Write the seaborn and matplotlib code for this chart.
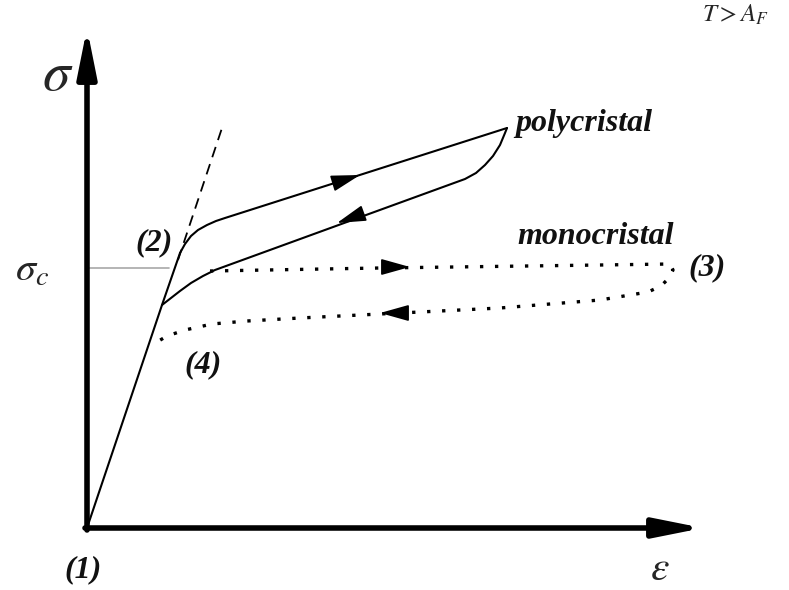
import matplotlib
matplotlib.use("Agg")
import matplotlib.pyplot as plt
import seaborn as sns

# Schematic coordinates (strain, stress), origin at the axes crossing
elastic_eps = [0, 75, 93]
elastic_sig = [0, 223, 275]

dashed_eps = [91, 135]
dashed_sig = [268, 400]

poly_load_eps = [93, 98, 104, 111, 120, 129, 138, 420]
poly_load_sig = [275, 284, 292, 298, 303, 307, 310, 400]

poly_unload_eps = [420, 418, 413, 406, 398, 389, 378, 128, 116, 104, 93, 84, 75]
poly_unload_sig = [400, 395, 383, 372, 363, 355, 349, 258, 252, 245, 237, 230, 223]

mono_eps = [123, 293, 513, 583, 586, 582, 574, 561, 513, 413, 313, 213, 160, 125, 98, 80, 65]
mono_sig = [257, 260, 263, 264, 258, 250, 242, 236, 228, 220, 215, 210, 207, 204, 198, 192, 183]

sigma_c = 260

# arrow heads along the paths: (tail, head)
arrows = [
    ((250, 346), (273, 353)),   # polycrystal loading
    ((272, 313), (250, 305)),   # polycrystal unloading
    ((300, 261), (323, 261)),   # monocrystal loading
    ((317, 215), (293, 215)),   # monocrystal unloading
]

sns.set_style("white")
plt.rcParams["mathtext.fontset"] = "stix"

fig = plt.figure(figsize=(7.89, 5.90), dpi=100)
ax = fig.add_axes([0, 0, 1, 1])
ax.set_xlim(-87, 702)
ax.set_ylim(-62, 528)
ax.axis("off")

# axes arrows
axis_head = "-|>,head_length=1.2,head_width=0.24"
ax.annotate("", xy=(0, 500), xytext=(0, -2),
            arrowprops=dict(arrowstyle=axis_head, lw=4, color="black", mutation_scale=24, shrinkA=0, shrinkB=0))
ax.annotate("", xy=(616, 0), xytext=(-2, 0),
            arrowprops=dict(arrowstyle=axis_head, lw=4, color="black", mutation_scale=24, shrinkA=0, shrinkB=0))

# sigma_c guide line
ax.plot([0, 82], [sigma_c, sigma_c], color="#a8a8a8", lw=1.2)

sns.lineplot(x=elastic_eps, y=elastic_sig, sort=False, estimator=None, color="black", lw=1.5, ax=ax)
sns.lineplot(x=dashed_eps, y=dashed_sig, sort=False, estimator=None, color="black", lw=1.3,
             linestyle=(0, (6, 4)), ax=ax)
sns.lineplot(x=poly_load_eps, y=poly_load_sig, sort=False, estimator=None, color="black", lw=1.5, ax=ax)
sns.lineplot(x=poly_unload_eps, y=poly_unload_sig, sort=False, estimator=None, color="black", lw=1.5, ax=ax)
sns.lineplot(x=mono_eps, y=mono_sig, sort=False, estimator=None, color="black", lw=2.4,
             linestyle=(0, (1, 3.5)), ax=ax)

for tail, head in arrows:
    ax.annotate("", xy=head, xytext=tail,
                arrowprops=dict(arrowstyle="-|>,head_length=1.0,head_width=0.28", lw=1.2, color="black",
                                mutation_scale=18, shrinkA=0, shrinkB=0))

lab = dict(family="Liberation Serif", weight="bold", style="italic", fontsize=23, color="#111111")
ax.text(428, 405, "polycristal", ha="left", va="center", **lab)
ax.text(430, 292, "monocristal", ha="left", va="center", **lab)
ax.text(67, 285, "(2)", ha="center", va="center", **lab)
ax.text(116, 163, "(4)", ha="center", va="center", **lab)
ax.text(620, 260, "(3)", ha="center", va="center", **lab)
ax.text(-4, -42, "(1)", ha="center", va="center", **lab)

ax.text(-29, 453, r"$\sigma$", ha="center", va="center", fontsize=40)
ax.text(-55, 258, r"$\sigma_c$", ha="center", va="center", fontsize=29)
ax.text(573, -40, r"$\varepsilon$", ha="center", va="center", fontsize=30)
ax.text(648, 513, r"$T > A_F$", ha="center", va="center", fontsize=18)

fig.savefig("out.png", dpi=100)
